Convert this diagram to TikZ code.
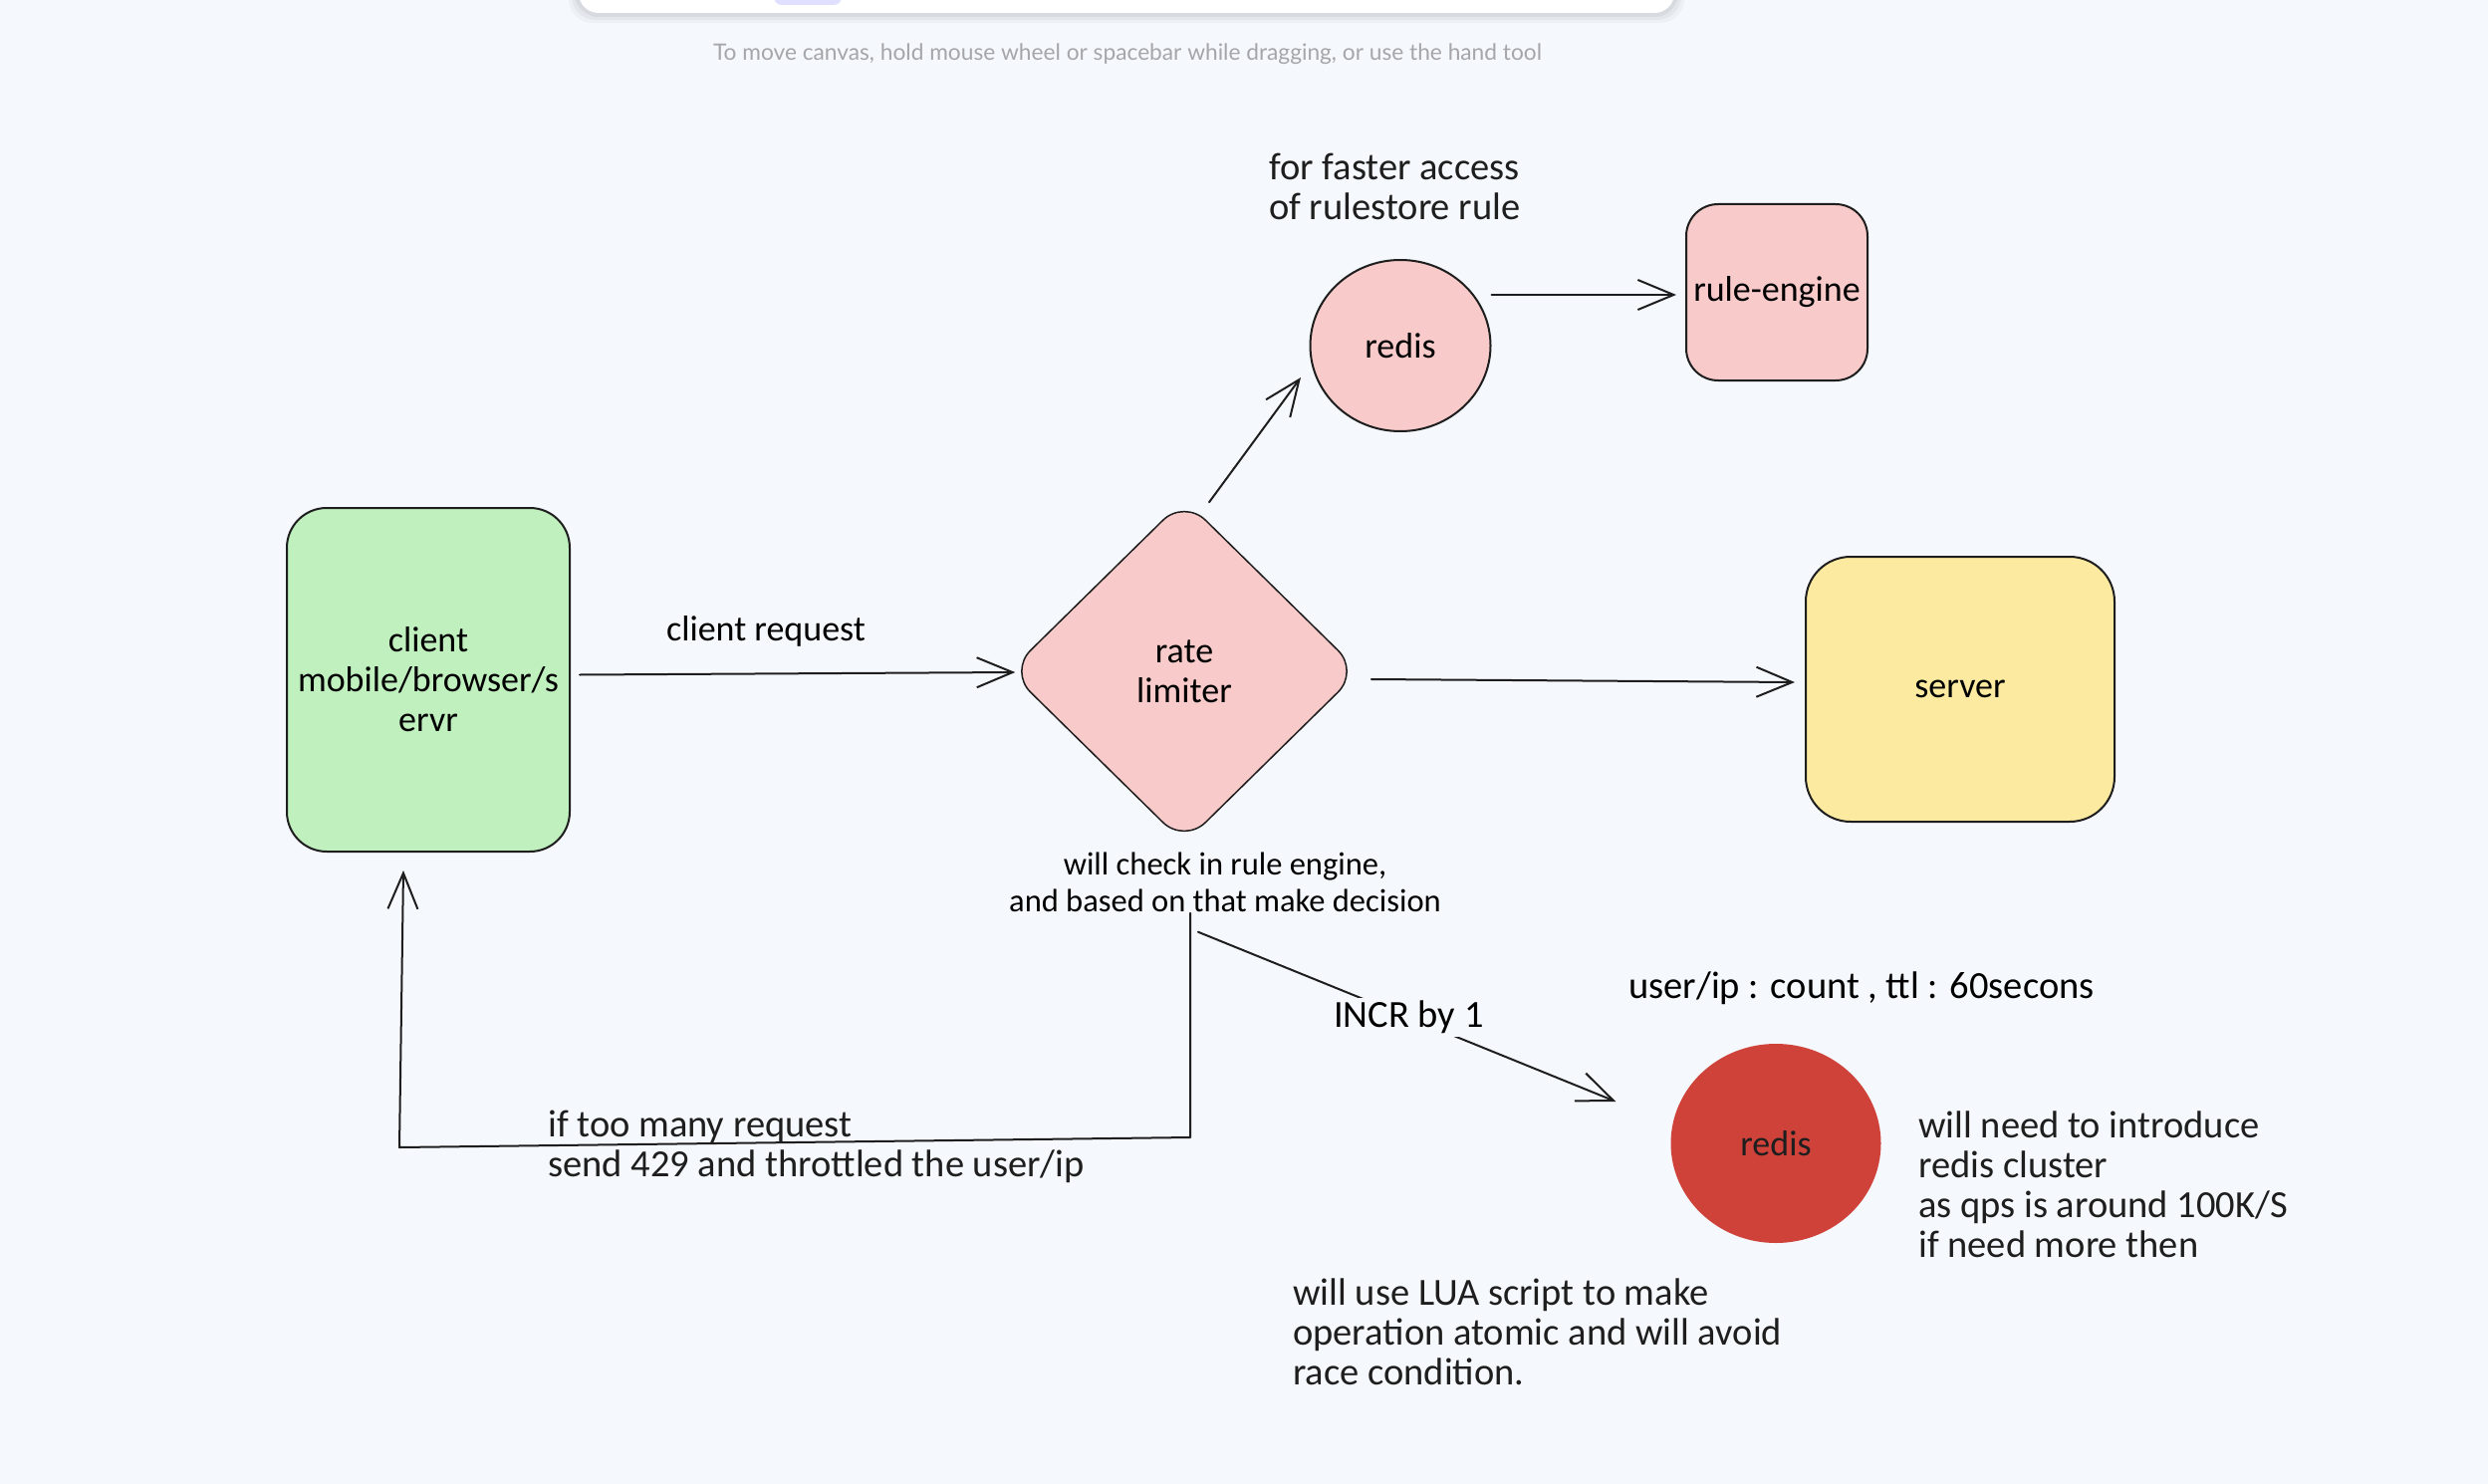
\documentclass[tikz,border=0pt]{standalone}
\usepackage{fontspec}
\setmainfont{Carlito}
\newfontfamily\uifont{Lato}
\usetikzlibrary{shapes.geometric,arrows.meta,calc}
\definecolor{bg}{RGB}{245,248,252}
\definecolor{ink}{RGB}{30,30,30}
\definecolor{cgreen}{RGB}{191,240,190}
\definecolor{cpink}{RGB}{248,202,202}
\definecolor{cyellow}{RGB}{252,234,160}
\definecolor{cred}{RGB}{207,66,58}
\definecolor{cgrey}{RGB}{165,165,170}
\definecolor{clav}{RGB}{224,223,255}
\newcommand\fmain{\fontsize{36}{40}\selectfont}
\newcommand\fnote{\fontsize{38.5}{40}\selectfont}
\newcommand\fsmall{\fontsize{32.5}{37}\selectfont}
\begin{document}
\begin{tikzpicture}[x=1pt,y=-1pt,line cap=round,line join=round,
  box/.style={draw=ink,line width=2pt,align=center,font=\fmain,inner sep=0pt},
  arr/.style={draw=ink,line width=2pt,-{Straight Barb[length=36pt,width=30pt]}},
  conn/.style={draw=ink,line width=2pt},
  note/.style={align=left,anchor=west,font=\fnote,inner sep=0pt,text=ink}]
\useasboundingbox (0,0) rectangle (2498,1490);
\fill[bg] (0,0) rectangle (2498,1490);
% toolbar
\foreach \o/\a in {10/0.03,7/0.04,4/0.05}
  \fill[black,opacity=\a,rounded corners=24pt] (581-\o,-40) rectangle (1681+\o,13+\o);
\fill[white,rounded corners=20pt] (581,-40) rectangle (1681,13);
\fill[clav,rounded corners=8pt] (777,-20) rectangle (845,5);
\node[font=\uifont\fontsize{22.7}{26}\selectfont,text=cgrey] (hint) at (1132,54) {To move canvas, hold mouse wheel or spacebar while dragging, or use the hand tool};

% nodes
\node[box,fill=cgreen,rounded corners=40pt,minimum width=284pt,minimum height=345pt] (client) at (430,682.5) {client\\mobile/browser/s\\ervr};
\node[diamond,draw=ink,line width=1.5pt,fill=cpink,minimum width=352pt,minimum height=346pt,inner sep=0pt,rounded corners=30pt,align=center,font=\fmain] (rate) at (1189,674) {rate\\limiter};
\node[box,fill=cyellow,rounded corners=45pt,minimum width=310pt,minimum height=266pt] (server) at (1968,692) {server};
\node[box,fill=cpink,rounded corners=32pt,minimum width=182pt,minimum height=177pt] (rule) at (1784,293.5) {rule-engine};
\node[ellipse,draw=ink,line width=2pt,fill=cpink,minimum width=181pt,minimum height=172pt,inner sep=0pt,font=\fmain] (redisA) at (1406,347) {redis};
\node[ellipse,fill=cred,minimum width=211pt,minimum height=200pt,inner sep=0pt,font=\fmain,text=ink] (redisB) at (1783,1148) {redis};

% labels
\node[font=\fmain,inner sep=0pt] (lreq) at (769,634) {client request};
\node[note] (lfast) at (1274,187) {for faster access\\of rulestore rule};
\node[align=center,font=\fsmall,inner sep=0pt] (lcheck) at (1230,886) {will check in rule engine,\\and based on that make decision};
\node[note] (lmany) at (550,1151) {if too many request\\send 429 and throttled the user/ip};
\node[font=\fnote,inner sep=0pt] (lttl) at (1869,992) {user/ip : count , ttl : 60secons};
\node[note] (lclust) at (1926,1189) {will need to introduce\\redis cluster\\as qps is around 100K/S\\if need more then};
\node[note] (llua) at (1298,1337) {will use LUA script to make\\operation atomic and will avoid\\race condition.};

% connectors
\draw[arr] ([shift={(9,-5)}]client.east) -- ([shift={(7,1)}]rate.west);
\draw[arr] ([shift={(11,8)}]rate.east) -- ([shift={(-10,-7)}]server.west);
\draw[arr] ([shift={(25,4)}]rate.north) -- ([shift={(-100,32)}]redisA.center);
\draw[arr] ([shift={(0,-51)}]redisA.east) -- ([shift={(-9,2.5)}]rule.west);
\draw[arr] ([shift={(6,69)}]rate.south) -- (1195,1142) -- (401,1152) -- ([shift={(-25,18)}]client.south);
\draw[arr] ([shift={(14,88)}]rate.south) -- node[pos=0.504,fill=bg,inner sep=3pt,font=\fnote] (lincr) {INCR by 1} ([shift={(-55,-42)}]redisB.west);
\end{tikzpicture}
\end{document}
